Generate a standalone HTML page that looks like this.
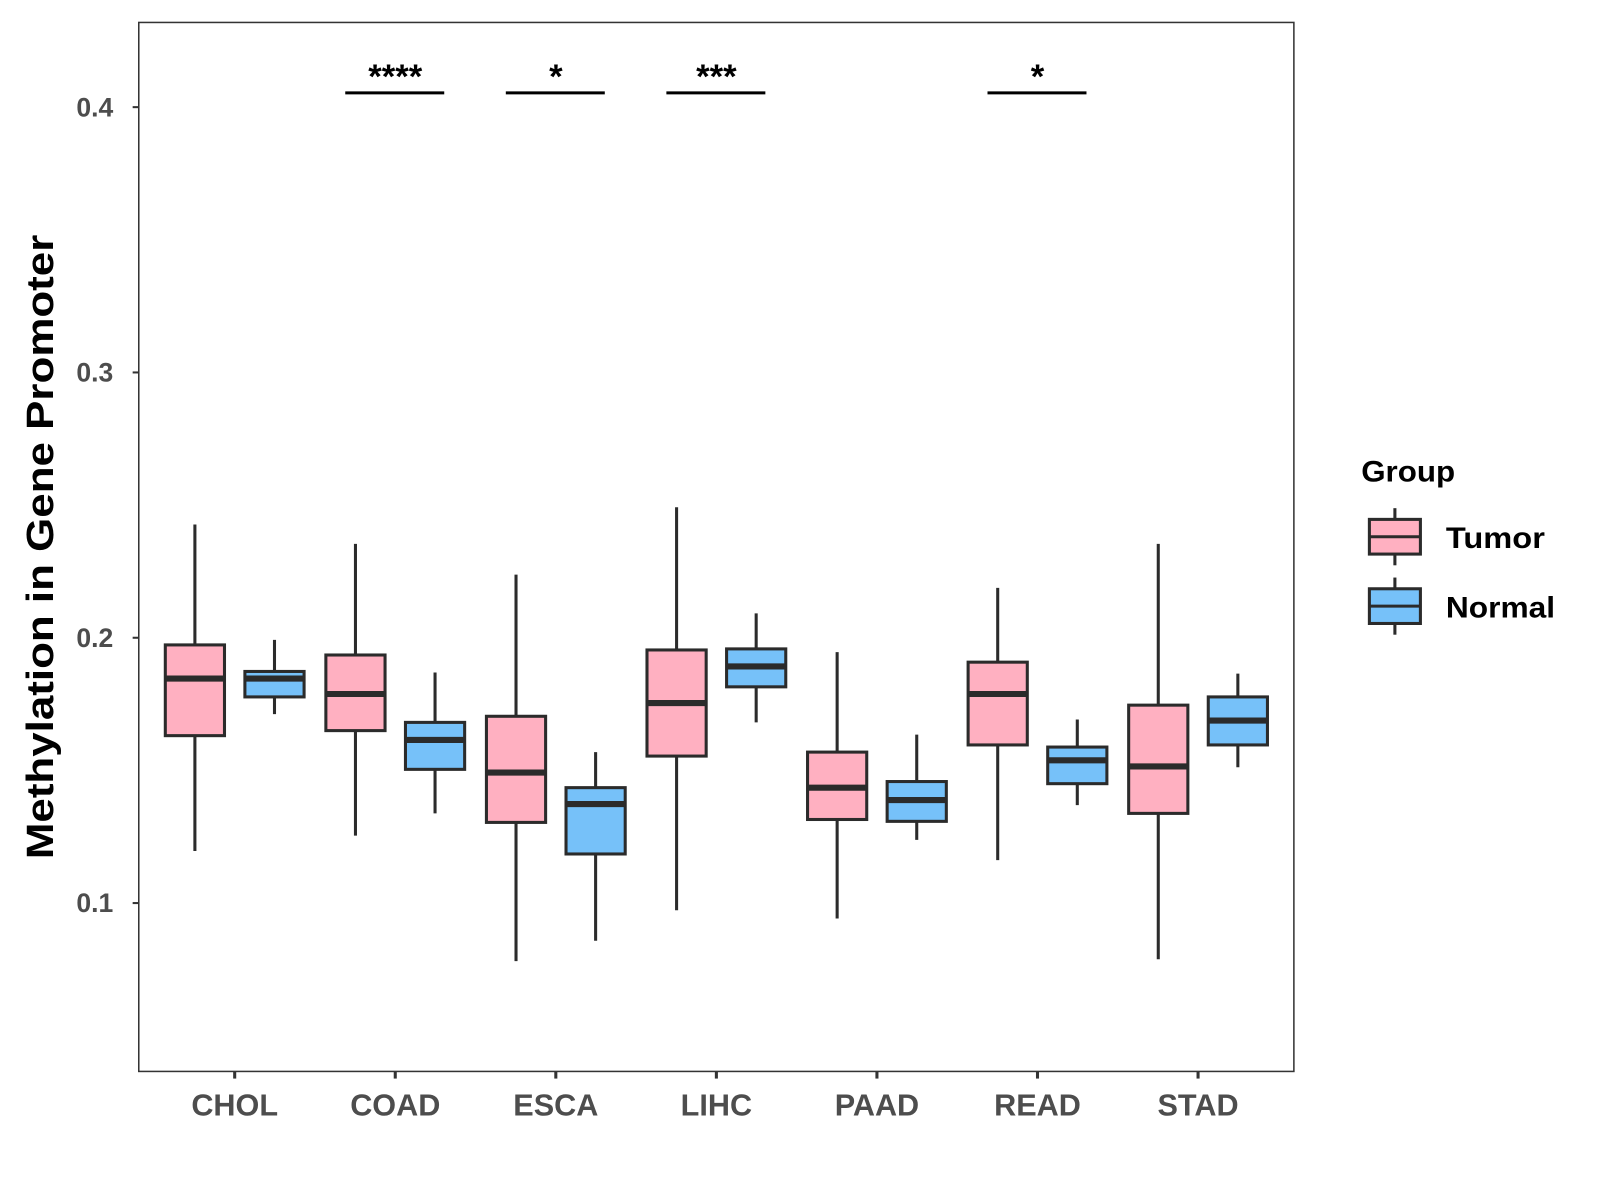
<!DOCTYPE html>
<html><head><meta charset="utf-8"><style>html,body{margin:0;padding:0;background:#fff}svg{display:block}text{font-family:"Liberation Sans",Arial,sans-serif;font-weight:bold}</style></head>
<body>
<svg id="chart" width="1600" height="1200" viewBox="0 0 1568 1176" xmlns="http://www.w3.org/2000/svg">
<rect x="0" y="0" width="1568" height="1176" fill="#fff"/>
<g id="plot"></g>
<rect x="136" y="22" width="1132" height="1028" fill="none" stroke="#333" stroke-width="1.5"/>
<text transform="translate(52,536) rotate(-90)" text-anchor="middle" font-size="37" textLength="612" lengthAdjust="spacingAndGlyphs" fill="#000">Methylation in Gene Promoter</text>
<g>
<text x="1334" y="472" font-size="29" textLength="92" lengthAdjust="spacingAndGlyphs" fill="#000">Group</text>
<g>
<line x1="1367" y1="498" x2="1367" y2="554" stroke="#2b2b2b" stroke-width="3"/>
<rect x="1342" y="509" width="50" height="34" fill="#FFB0C1" stroke="#2b2b2b" stroke-width="3"/>
<line x1="1342" y1="526" x2="1392" y2="526" stroke="#2b2b2b" stroke-width="3"/>
<text x="1417" y="537" font-size="29" textLength="97" lengthAdjust="spacingAndGlyphs" fill="#000">Tumor</text></g>
<g>
<line x1="1367" y1="566" x2="1367" y2="622" stroke="#2b2b2b" stroke-width="3"/>
<rect x="1342" y="577" width="50" height="34" fill="#76C1F9" stroke="#2b2b2b" stroke-width="3"/>
<line x1="1342" y1="594" x2="1392" y2="594" stroke="#2b2b2b" stroke-width="3"/>
<text x="1417" y="605" font-size="29" textLength="107" lengthAdjust="spacingAndGlyphs" fill="#000">Normal</text></g>
</g>
</svg>
<script>
const categories = ["CHOL","COAD","ESCA","LIHC","PAAD","READ","STAD"];
// [min, q1, median, q3, max]
const tumorStats = [
 [0.1196,0.1631,0.1846,0.1973,0.2427],
 [0.1254,0.1650,0.1788,0.1935,0.2354],
 [0.0781,0.1304,0.1492,0.1704,0.2238],
 [0.0973,0.1554,0.1754,0.1954,0.2492],
 [0.0942,0.1315,0.1435,0.1569,0.1946],
 [0.1162,0.1596,0.1788,0.1908,0.2188],
 [0.0788,0.1338,0.1515,0.1746,0.2354]];
const normalStats = [
 [0.1712,0.1777,0.1846,0.1873,0.1992],
 [0.1338,0.1504,0.1615,0.1681,0.1869],
 [0.0858,0.1185,0.1373,0.1435,0.1569],
 [0.1681,0.1815,0.1892,0.1958,0.2092],
 [0.1238,0.1308,0.1388,0.1458,0.1635],
 [0.1369,0.1450,0.1538,0.1588,0.1692],
 [0.1512,0.1596,0.1688,0.1777,0.1865]];
const yTicks = [0.1,0.2,0.3,0.4];
const yTickLabels = ["0.1","0.2","0.3","0.4"];
const sigLabels = ["","****","*","***","","*",""];

const NS="http://www.w3.org/2000/svg";
const g=document.getElementById('plot');
const y=v=>105+(0.4-v)*2600;
const x=i=>230+i*157.35;
function mk(t,a,p){const e=document.createElementNS(NS,t);for(const k in a)e.setAttribute(k,a[k]);(p||g).appendChild(e);return e;}
yTicks.forEach((v,i)=>{
 const tk=mk('line',{x1:130,x2:136,y1:y(v),y2:y(v),stroke:'#333','stroke-width':2});
 
 
 const t=mk('text',{x:111,y:y(v)+9,'text-anchor':'end','font-size':26,fill:'#4d4d4d'});t.textContent=yTickLabels[i];
 
 
});
categories.forEach((c,i)=>{
 const tk=mk('line',{x1:x(i),x2:x(i),y1:1050,y2:1057,stroke:'#333','stroke-width':3});
 
 
 const t=mk('text',{x:x(i),y:1093,'text-anchor':'middle','font-size':30,fill:'#4d4d4d'});t.textContent=c;
 
 
 [[tumorStats[i],-39,'#FFB0C1','tumor'],[normalStats[i],39,'#76C1F9','normal']].forEach(([s,o,col,nm])=>{
  const cx=x(i)+o,hw=29;
  const bg=mk('g',{});
  
  
  mk('line',{x1:cx,x2:cx,y1:y(s[0]),y2:y(s[4]),stroke:'#2b2b2b','stroke-width':3},bg);
  mk('rect',{x:cx-hw,y:y(s[3]),width:2*hw,height:y(s[1])-y(s[3]),fill:col,stroke:'#2b2b2b','stroke-width':3},bg);
  mk('line',{x1:cx-hw,x2:cx+hw,y1:y(s[2]),y2:y(s[2]),stroke:'#2b2b2b','stroke-width':6},bg);
 });
 if(sigLabels[i]){
  const sg=mk('g',{});
  
  
  mk('line',{x1:x(i)-49,x2:x(i)+48,y1:91,y2:91,stroke:'#000','stroke-width':3},sg);
  const st=mk('text',{x:x(i),y:86,'text-anchor':'middle','font-size':34,fill:'#000'},sg);st.textContent=sigLabels[i];
 }
});
</script>
</body></html>
